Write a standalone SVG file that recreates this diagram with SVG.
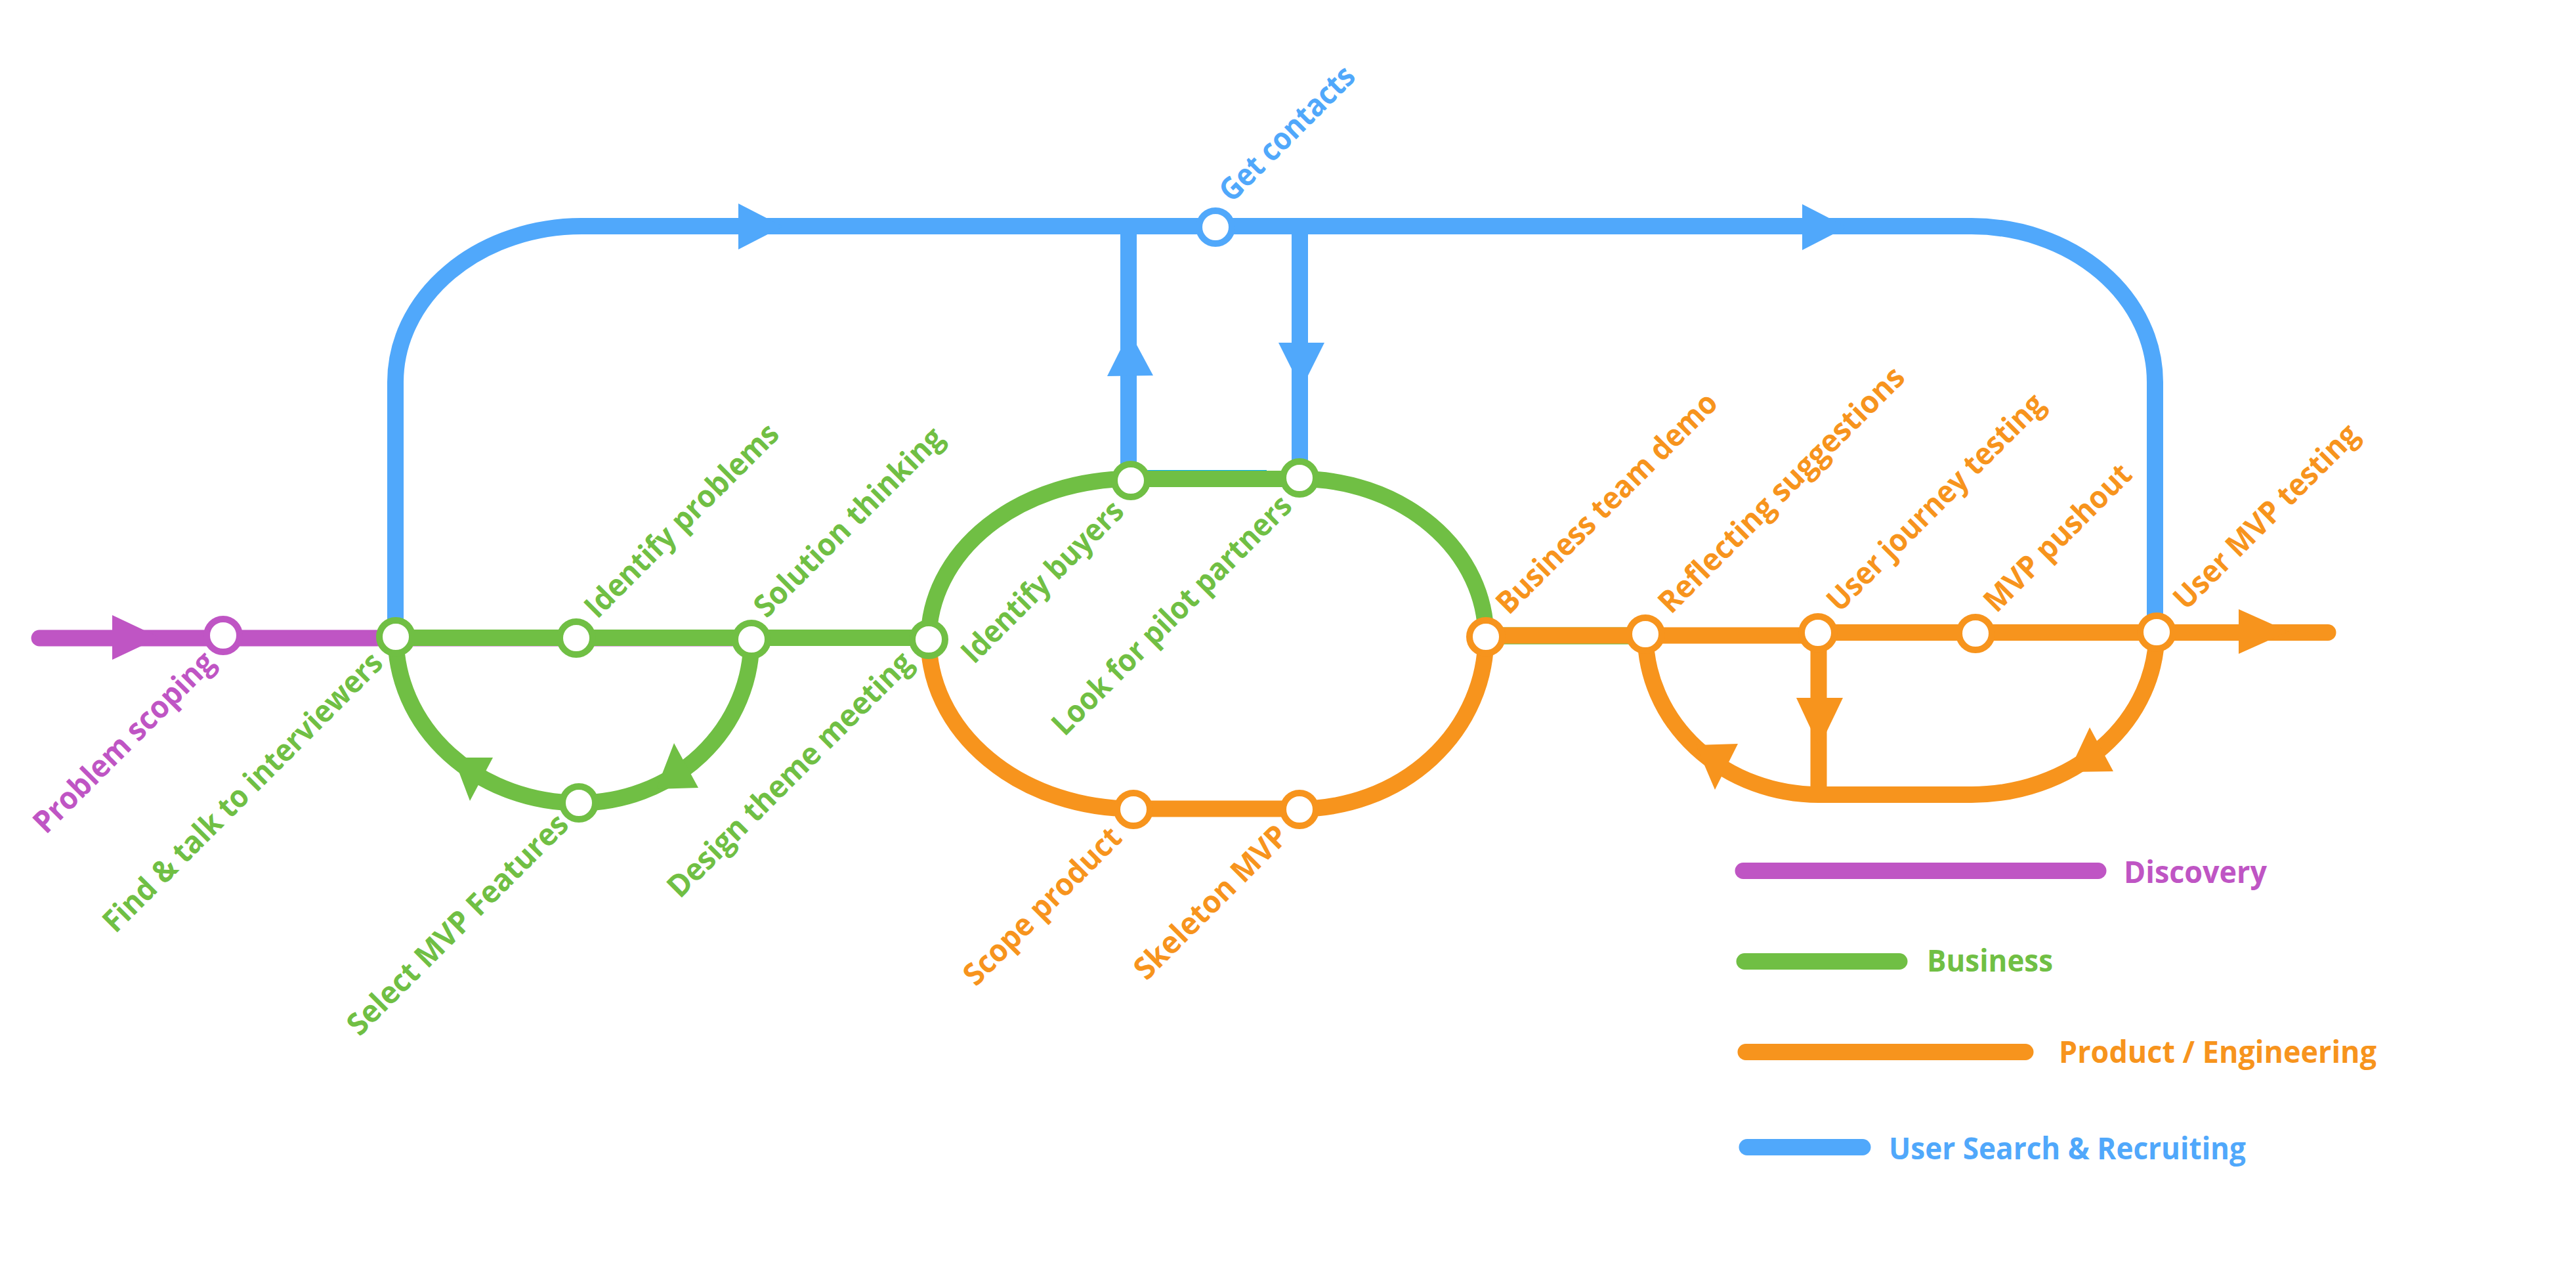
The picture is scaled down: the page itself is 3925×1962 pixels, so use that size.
<svg xmlns="http://www.w3.org/2000/svg" width="3925" height="1962" viewBox="0 0 3925 1962">
<style>
.l{fill:none;stroke-width:25}
.pu{stroke:#BF55C4}.gr{stroke:#70BF44}.or{stroke:#F7941D}.bl{stroke:#50A8FB}
.fpu{fill:#BF55C4}.fgr{fill:#70BF44}.for{fill:#F7941D}.fbl{fill:#50A8FB}
.n{fill:#fff;stroke-width:10}
text{font-family:"Open Sans","Noto Sans",sans-serif;font-weight:700;font-size:47px}
.cap{stroke-linecap:round}
</style>
<rect width="3925" height="1962" fill="#fff"/>
<g id="connectors">
<path class="l bl" d="M602.500,970V582A284 237.500 0 0 1 886,344.500H3004A280 237.500 0 0 1 3283.500,582V963"/>
<path class="l bl" d="M1719.500,344V732M1980.500,344V728"/>
<polygon class="fbl" points="1125,310 1193,345 1125,380"/>
<polygon class="fbl" points="2746,311 2814,346 2746,381"/>
<polygon class="fbl" points="1687,573 1757,572 1721,505"/>
<polygon class="fbl" points="1948,522 2018,522 1983,592"/>
<path class="l" stroke="#00AEEF" d="M1720,728.500H1930"/>
<path class="l pu cap" d="M60,972H1145"/>
<polygon class="fpu" points="171,937 243,971 171,1005"/>
<path class="l gr" d="M603,971.500H1415"/>
<path class="l gr" d="M603,970A279 253 0 0 0 882,1223A263 249 0 0 0 1145,974"/>
<polygon class="fgr" points="691,1154 751,1154 716,1220"/>
<polygon class="fgr" points="1027,1132 1064,1200 1000,1202"/>
<path class="l gr" d="M1415,974A308 245 0 0 1 1723,729.500H1980A284 241 0 0 1 2264,970"/>
<path class="l or" d="M1415,974A312 258 0 0 0 1727,1232H1980A284 262 0 0 0 2264,970"/>
<path class="l gr" d="M2264,968.500H2507" style="stroke-width:26"/>
<path class="l or" d="M2264,968H2770"/>
<path class="l or cap" d="M2770,963.500H3547"/>
<polygon class="for" points="3411,928 3487,962 3411,996"/>
<path class="l or" d="M2771,964V1212"/>
<polygon class="for" points="2737,1063 2808,1063 2772,1138"/>
<path class="l or" d="M2507,966A264 244.500 0 0 0 2771,1210.500H3004A282 247.500 0 0 0 3286,963"/>
<polygon class="for" points="2584,1135 2648,1133 2613,1203"/>
<polygon class="for" points="3184,1108 3220,1175 3152,1176"/>
</g>
<g id="node-problem-scoping"><circle class="n pu" cx="340" cy="968" r="25"/><text class="fpu" transform="translate(70,1272) rotate(-45)" textLength="368" lengthAdjust="spacingAndGlyphs">Problem scoping</text></g>
<g id="node-find-talk"><circle class="n gr" cx="603" cy="970" r="25"/><text class="fgr" transform="translate(176,1423) rotate(-45)" textLength="580" lengthAdjust="spacingAndGlyphs">Find &amp; talk to interviewers</text></g>
<g id="node-identify-problems"><circle class="n gr" cx="878" cy="972" r="25"/><text class="fgr" transform="translate(910,944) rotate(-45)" textLength="396" lengthAdjust="spacingAndGlyphs">Identify problems</text></g>
<g id="node-solution-thinking"><circle class="n gr" cx="1145" cy="974" r="25"/><text class="fgr" transform="translate(1168,943) rotate(-45)" textLength="386" lengthAdjust="spacingAndGlyphs">Solution thinking</text></g>
<g id="node-select-mvp"><circle class="n gr" cx="882" cy="1223" r="25"/><text class="fgr" transform="translate(548,1580) rotate(-45)" textLength="454" lengthAdjust="spacingAndGlyphs">Select MVP Features</text></g>
<g id="node-design-theme"><circle class="n gr" cx="1415" cy="974" r="25"/><text class="fgr" transform="translate(1036,1370) rotate(-45)" textLength="506" lengthAdjust="spacingAndGlyphs">Design theme meeting</text></g>
<g id="node-get-contacts"><circle class="n bl" cx="1852" cy="346" r="25"/><text class="fbl" transform="translate(1877,310) rotate(-45)" textLength="270" lengthAdjust="spacingAndGlyphs">Get contacts</text></g>
<g id="node-identify-buyers"><circle class="n gr" cx="1723" cy="732" r="25"/><text class="fgr" transform="translate(1484,1013) rotate(-45)" textLength="327" lengthAdjust="spacingAndGlyphs">Identify buyers</text></g>
<g id="node-pilot-partners"><circle class="n gr" cx="1980" cy="728" r="25"/><text class="fgr" transform="translate(1622,1123) rotate(-45)" textLength="494" lengthAdjust="spacingAndGlyphs">Look for pilot partners</text></g>
<g id="node-scope-product"><circle class="n or" cx="1727" cy="1233" r="25"/><text class="for" transform="translate(1487,1504) rotate(-45)" textLength="318" lengthAdjust="spacingAndGlyphs">Scope product</text></g>
<g id="node-skeleton-mvp"><circle class="n or" cx="1980" cy="1233" r="25"/><text class="for" transform="translate(1747,1495) rotate(-45)" textLength="309" lengthAdjust="spacingAndGlyphs">Skeleton MVP</text></g>
<g id="node-business-demo"><circle class="n or" cx="2264" cy="970" r="25"/><text class="for" transform="translate(2299,938) rotate(-45)" textLength="454" lengthAdjust="spacingAndGlyphs">Business team demo</text></g>
<g id="node-reflecting"><circle class="n or" cx="2507" cy="966" r="25"/><text class="for" transform="translate(2546,937) rotate(-45)" textLength="508" lengthAdjust="spacingAndGlyphs">Reflecting suggestions</text></g>
<g id="node-journey"><circle class="n or" cx="2770" cy="964" r="25"/><text class="for" transform="translate(2803,934) rotate(-45)" textLength="446" lengthAdjust="spacingAndGlyphs">User journey testing</text></g>
<g id="node-pushout"><circle class="n or" cx="3010" cy="965" r="25"/><text class="for" transform="translate(3042,935) rotate(-45)" textLength="296" lengthAdjust="spacingAndGlyphs">MVP pushout</text></g>
<g id="node-user-mvp"><circle class="n or" cx="3286" cy="963" r="25"/><text class="for" transform="translate(3331,931) rotate(-45)" textLength="376" lengthAdjust="spacingAndGlyphs">User MVP testing</text></g>
<g id="legend">
<path class="l pu cap" d="M2656,1326.500H3197"/><text class="fpu" x="3236" y="1345" textLength="218" lengthAdjust="spacingAndGlyphs">Discovery</text>
<path class="l gr cap" d="M2658,1464.500H2894"/><text class="fgr" x="2936" y="1480" textLength="192" lengthAdjust="spacingAndGlyphs">Business</text>
<path class="l or cap" d="M2660,1602.500H3086"/><text class="for" x="3137" y="1619" textLength="484" lengthAdjust="spacingAndGlyphs">Product / Engineering</text>
<path class="l bl cap" d="M2662,1747.500H2838"/><text class="fbl" x="2878" y="1766" textLength="544" lengthAdjust="spacingAndGlyphs">User Search &amp; Recruiting</text>
</g>
</svg>
